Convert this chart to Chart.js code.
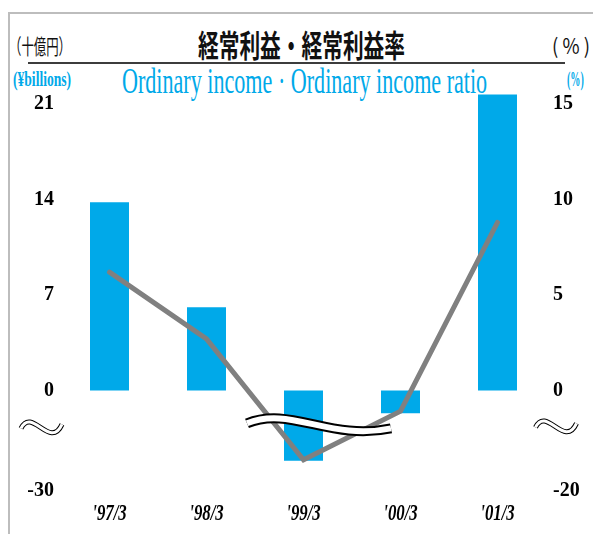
<!DOCTYPE html>
<html lang="ja">
<head>
<meta charset="utf-8">
<title>経常利益・経常利益率</title>
<script src="https://cdn.jsdelivr.net/npm/chart.js@4.4.1/dist/chart.umd.min.js"></script>
<style>
  html, body { margin: 0; padding: 0; background: #fff; }
  #wrap { position: relative; width: 593px; height: 534px; overflow: hidden; }
  #frame { position: absolute; left: 8px; top: 12px; width: 600px; height: 600px;
           border-top: 2px solid #bdbdbd; border-left: 2px solid #bdbdbd; }
  #rule { position: absolute; left: 28px; top: 62px; width: 537px; height: 2px; background: #3c3c3c; }
  .txt { position: absolute; white-space: nowrap; transform-origin: 0 0; line-height: 1; }
  .jp { font-family: "Noto Sans CJK JP", sans-serif; color: #111; }
  .en { font-family: "Liberation Serif", serif; color: #00a9e9; }
  #chart { position: absolute; left: 0; top: 0; z-index: 2; }
</style>
</head>
<body>
<div id="wrap">
  <div id="frame"></div>
  <div class="txt jp" style="left:9px; top:35px; font-size:21px;" data-w="62">（十億円）</div>
  <div class="txt jp" style="left:198px; top:28px; font-size:31px; font-weight:700;" data-w="207">経常利益・経常利益率</div>
  <div class="txt jp" style="left:552px; top:35px; font-size:21px;" data-w="38">( % )</div>
  <div id="rule"></div>
  <div class="txt en" style="left:13px; top:68px; font-size:22px; font-weight:700;" data-w="58">(¥billions)</div>
  <div class="txt en" style="left:122px; top:64px; font-size:35px;" data-w="365">Ordinary income · Ordinary income ratio</div>
  <div class="txt en" style="left:567px; top:68px; font-size:22px; font-weight:700;" data-w="17">(%)</div>
  <canvas id="chart" width="593" height="534"></canvas>
</div>
<script>
  const categories = ["'97/3", "'98/3", "'99/3", "'00/3", "'01/3"];
  const incomeValues = [13.8, 6.1, -21.0, -6.8, 21.7];   // ordinary income, ¥ billions
  const ratioValues = [6.2, 2.7, -13.8, -4.1, 8.8];      // ordinary income ratio, %
  const incomeTicks = [-30, 0, 7, 14, 21];
  const ratioTicks = [-20, 0, 5, 10, 15];

  const axisTicks = { y: incomeTicks, y2: ratioTicks };
  // share of the plot height that lies above zero; below it the axis is compressed
  const zeroFrac = 0.7531;

  // squeeze each header line to its box width
  document.querySelectorAll('.txt[data-w]').forEach(el => {
    const w = parseFloat(el.dataset.w);
    el.style.transform = `scaleX(${w / el.offsetWidth})`;
  });

  // linear axis with a break: positive and negative parts have their own spacing
  class BrokenLinearScale extends Chart.LinearScale {
    buildTicks() {
      return (axisTicks[this.id] || []).map(value => ({ value }));
    }
    zeroPixel() {
      return this.top + (this.bottom - this.top) * zeroFrac;
    }
    getPixelForValue(value) {
      const zero = this.zeroPixel();
      if (value >= 0) return zero - (zero - this.top) * value / this.max;
      return zero + (this.bottom - zero) * value / this.min;
    }
    getValueForPixel(pixel) {
      const zero = this.zeroPixel();
      if (pixel <= zero) return (zero - pixel) / (zero - this.top) * this.max;
      return (pixel - zero) / (this.bottom - zero) * this.min;
    }
  }
  BrokenLinearScale.id = 'brokenLinear';
  BrokenLinearScale.defaults = {};
  Chart.register(BrokenLinearScale);

  function wave(ctx, pts, outer, inner) {
    const draw = () => {
      ctx.beginPath();
      ctx.moveTo(pts[0][0], pts[0][1]);
      ctx.bezierCurveTo(pts[1][0], pts[1][1], pts[2][0], pts[2][1], pts[3][0], pts[3][1]);
    };
    ctx.lineCap = 'butt';
    draw(); ctx.strokeStyle = '#000'; ctx.lineWidth = outer; ctx.stroke();
    draw(); ctx.strokeStyle = '#fff'; ctx.lineWidth = inner; ctx.stroke();
  }

  function tilde(ctx, cx, cy) {
    wave(ctx, [[cx - 20.5, cy + 1], [cx - 9.5, cy - 21], [cx + 8.5, cy + 23], [cx + 20.5, cy - 3]], 5, 3);
  }

  const breakPlugin = {
    id: 'axisBreak',
    afterDatasetsDraw(chart) {
      const { ctx, chartArea, scales: { x, y } } = chart;
      const yc = y.getPixelForValue(-11);
      const x0 = x.getPixelForValue(2) - 56.5;
      const x1 = x.getPixelForValue(3) - 9.5;
      ctx.save();
      wave(ctx, [[x0, yc - 4], [x0 + 43, yc - 22], [x0 + 83, yc + 14], [x1, yc + 1]], 10, 6);
      tilde(ctx, chartArea.left - 19.5, yc);
      tilde(ctx, chartArea.right + 10, yc - 1);
      ctx.restore();
    }
  };

  const xLabelPlugin = {
    id: 'xLabels',
    afterDraw(chart) {
      const { ctx, chartArea, scales: { x } } = chart;
      ctx.save();
      ctx.font = 'italic bold 24px "Liberation Serif"';
      ctx.fillStyle = '#000';
      ctx.textAlign = 'center';
      ctx.textBaseline = 'alphabetic';
      categories.forEach((label, i) => {
        ctx.save();
        ctx.translate(x.getPixelForTick(i), chartArea.bottom + 29);
        ctx.scale(0.7, 1);
        ctx.fillText(label, 0, 0);
        ctx.restore();
      });
      ctx.restore();
    }
  };

  const tickFont = { family: 'Liberation Serif', weight: 'bold', size: 20 };

  new Chart(document.getElementById('chart'), {
    data: {
      labels: categories,
      datasets: [
        {
          type: 'line',
          label: 'Ordinary income ratio',
          data: ratioValues,
          yAxisID: 'y2',
          borderColor: '#808080',
          borderWidth: 5,
          borderCapStyle: 'round',
          borderJoinStyle: 'miter',
          pointRadius: 0,
          tension: 0,
          order: 0
        },
        {
          type: 'bar',
          label: 'Ordinary income',
          data: incomeValues,
          yAxisID: 'y',
          backgroundColor: '#00a9e9',
          borderWidth: 0,
          barPercentage: 0.402,
          categoryPercentage: 1,
          order: 1
        }
      ]
    },
    options: {
      responsive: false,
      animation: false,
      layout: { padding: { top: 84, left: 0, right: 0, bottom: 0 } },
      plugins: { legend: { display: false }, tooltip: { enabled: false } },
      scales: {
        x: {
          type: 'category',
          offset: true,
          grid: { display: false, drawTicks: false },
          border: { display: false },
          ticks: { display: false },
          afterFit: s => { s.height = 43; }
        },
        y: {
          type: 'brokenLinear',
          position: 'left',
          min: -30,
          max: 22.47,
          grid: { display: false, drawTicks: false },
          border: { display: false },
          ticks: { autoSkip: false, padding: 7, color: '#000', font: tickFont, callback: v => String(v) },
          afterFit: s => { s.width = 61; }
        },
        y2: {
          type: 'brokenLinear',
          position: 'right',
          min: -20,
          max: 16.05,
          grid: { display: false, drawTicks: false },
          border: { display: false },
          ticks: { autoSkip: false, padding: 7, color: '#000', font: tickFont, callback: v => String(v) },
          afterFit: s => { s.width = 47; }
        }
      }
    },
    plugins: [breakPlugin, xLabelPlugin]
  });
</script>
</body>
</html>
